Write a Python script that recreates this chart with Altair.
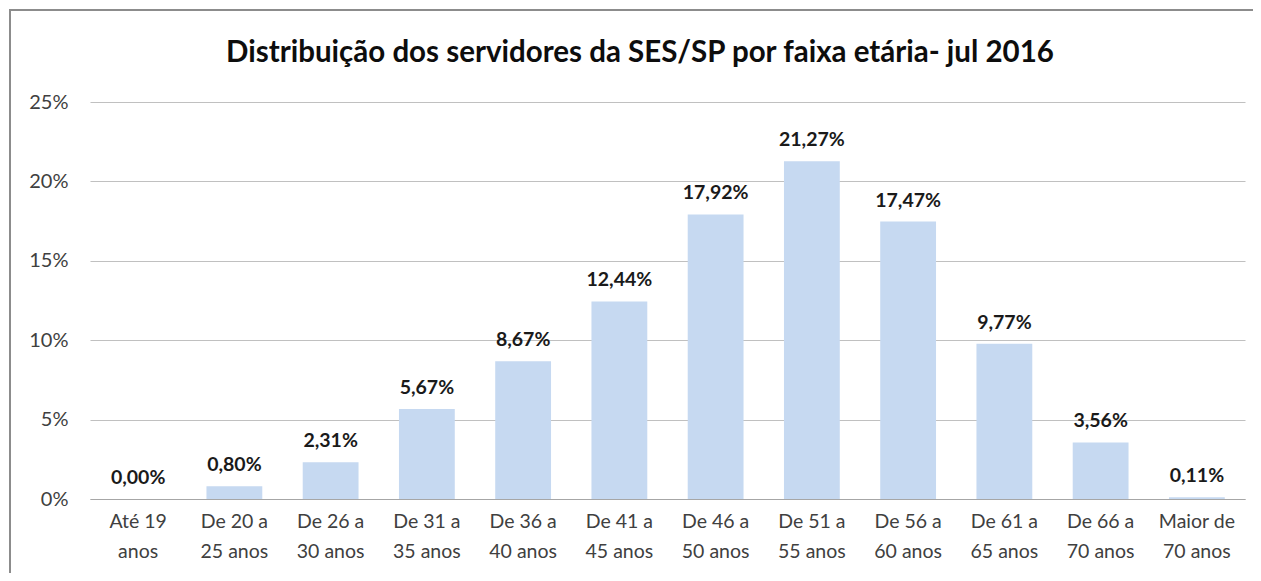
import altair as alt
import pandas as pd

categories = ["Até 19\nanos", "De 20 a\n25 anos", "De 26 a\n30 anos", "De 31 a\n35 anos",
              "De 36 a\n40 anos", "De 41 a\n45 anos", "De 46 a\n50 anos", "De 51 a\n55 anos",
              "De 56 a\n60 anos", "De 61 a\n65 anos", "De 66 a\n70 anos", "Maior de\n70 anos"]
values = [0.00, 0.80, 2.31, 5.67, 8.67, 12.44, 17.92, 21.27, 17.47, 9.77, 3.56, 0.11]
y_ticks = [0, 5, 10, 15, 20, 25]
title_text = "Distribuição dos servidores da SES/SP por faixa etária- jul 2016"

df = pd.DataFrame({"cat": categories, "v": values})

FONT = "Lato"
W, H = 1155, 397

x_enc = alt.X("cat:N", sort=None, title=None,
              scale=alt.Scale(paddingInner=0.42, paddingOuter=0.21),
              axis=alt.Axis(labelAngle=0, labelExpr="split(datum.label, '\\n')",
                            labelFont=FONT, labelFontSize=19.5, labelColor="#404040",
                            labelLineHeight=30, labelPadding=13, ticks=False, grid=False,
                            domainColor="#A6A6A6", domainWidth=1.2, labelBaseline="top"))
y_enc = alt.Y("v:Q", title=None,
              scale=alt.Scale(domain=[0, 25], nice=False),
              axis=alt.Axis(values=y_ticks, labelExpr="datum.value + '%'",
                            labelFont=FONT, labelFontSize=20, labelColor="#404040",
                            labelPadding=22, ticks=False, domain=False,
                            gridColor="#C0C0C0", gridWidth=1.2))

bars = alt.Chart(df).mark_bar(color="#C6D9F1").encode(x=x_enc, y=y_enc)

labels = alt.Chart(df).transform_calculate(
    lbl="replace(format(datum.v, '.2f'), '.', ',') + '%'"
).mark_text(font=FONT, fontSize=19.5, fontWeight="bold", color="#1a1a1a",
            baseline="bottom", dy=-11).encode(x=alt.X("cat:N", sort=None), y="v:Q", text="lbl:N")

title = alt.Chart(pd.DataFrame({"t": [title_text]})).mark_text(
    font=FONT, fontSize=29.5, fontWeight="bold", color="#0d0d0d", baseline="middle", align="center"
).encode(x=alt.value(550), y=alt.value(-49), text="t:N")

frame_src = pd.DataFrame({"a": [0]})
left_edge = alt.Chart(frame_src).mark_rule(color="#8c8c8c", strokeWidth=2).encode(
    x=alt.value(-80), y=alt.value(-93), y2=alt.value(H + 200))
top_edge = alt.Chart(frame_src).mark_rule(color="#8c8c8c", strokeWidth=2).encode(
    x=alt.value(-81), x2=alt.value(W + 200), y=alt.value(-92))

chart = alt.layer(bars, labels, title, left_edge, top_edge).properties(
    width=W, height=H,
    autosize=alt.AutoSizeParams(type="none"),
    padding={"left": 82, "top": 94, "right": 8, "bottom": 74},
).configure(background="white").configure_view(stroke=None)

chart.save("out.html", embed_options={"renderer": "svg", "actions": False})
